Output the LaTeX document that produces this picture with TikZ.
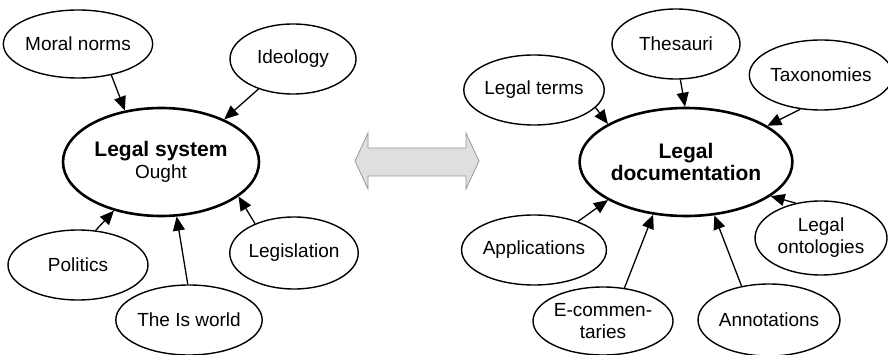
\documentclass[tikz,border=0pt]{standalone}
\usepackage{fontspec}
\setmainfont{Liberation Sans}
\usetikzlibrary{arrows.meta,shapes.geometric}
\tikzset{
    basic/.style = {draw, ellipse, inner sep=0pt, align=center, line width=1.4pt, font=\fontsize{19}{22}\selectfont},
    minor/.style = {basic, minimum width=138pt, minimum height=70pt},
    major/.style = {basic, line width=2.6pt, minimum width=196pt, minimum height=108pt},
    feeds/.style = {line width=1.3pt, -{Triangle[length=14pt,width=12pt]}},
    swap arrow/.style = {draw=gray!80, fill=gray!25, line width=0.8pt, line join=miter}
}
\newcommand{\bigtext}{\fontsize{21}{25}\selectfont\bfseries}

\begin{document}
\begin{tikzpicture}[x=1pt,y=-1pt]
	\useasboundingbox (0,0) rectangle (888,355);
	% legal system side
	\node[major] (system) at (161,162) {{\bigtext Legal system}\\Ought};
	\node[minor, minimum width=140pt, minimum height=68pt] (moral) at (78,44) {Moral norms};
	\node[minor, minimum width=126pt] (ideology) at (293,59) {Ideology};
	\node[minor, minimum width=140pt] (politics) at (78,265) {Politics};
	\node[minor] (isworld) at (189,320) {The Is world};
	\node[minor, minimum width=128pt, minimum height=72pt] (legislation) at (294,253) {Legislation};
	% legal documentation side
	\node[major] (doc) at (686,162) {{\bigtext Legal}\\{\bigtext documentation}};
	\node[minor] (terms) at (534,90) {Legal terms};
	\node[minor, minimum width=128pt] (thesauri) at (676,44) {Thesauri};
	\node[minor, minimum width=132pt] (taxonomies) at (821,75) {Taxonomies};
	\node[minor] (applications) at (534,250) {Applications};
	\node[minor, minimum width=140pt, minimum height=68pt] (ecomm) at (603,321) {E-commen-\\taries};
	\node[minor, minimum height=72pt] (annotations) at (769,320) {Annotations};
	\node[minor, minimum width=132pt, minimum height=74pt] (ontologies) at (821,238) {Legal\\ontologies};

	\foreach \from/\to in {moral.-43/system.125, ideology.-139/system.34,
		politics.63/system.-134, isworld.92/system.-74, legislation.143/system.-24,
		terms.-16/doc.154, thesauri.-83/doc.91, taxonomies.-121/doc.24,
		applications.33/doc.-154, ecomm.57/doc.-122, annotations.129/doc.-62,
		ontologies.126/doc.-22}
		\draw[feeds] (\from) -- (\to);

	% double arrow between the two
	\draw[swap arrow] (355,161) -- (368,133) -- (368,148) -- (466,148) -- (466,133)
		-- (479,161) -- (466,189) -- (466,176) -- (368,176) -- (368,189) -- cycle;
\end{tikzpicture}
\end{document}
